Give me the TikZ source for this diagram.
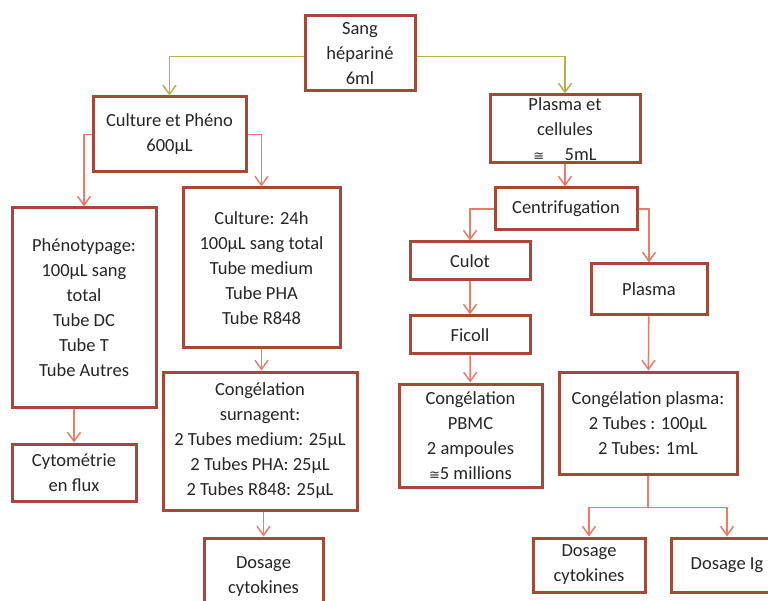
\documentclass[tikz,border=0pt]{standalone}
\usepackage{fontspec}
\setmainfont{Carlito}
\newfontfamily\symfont{DejaVu Sans}
\usepackage{tikz}
\usetikzlibrary{arrows.meta}
\usetikzlibrary{positioning}
\definecolor{boxred}{RGB}{164,72,56}
\definecolor{arrowred}{RGB}{233,125,105}
\definecolor{olivel}{RGB}{184,176,74}
\tikzstyle{block} = [draw=boxred, line width=3pt, fill=white, rectangle,
align=center, inner sep=1pt, text=black!85, font=\fontsize{18.5}{25}\selectfont]
\tikzstyle{link} = [draw, -{Straight Barb[length=9pt,width=13pt]}, color=arrowred, line width=1.5pt]

\begin{document}
\begin{tikzpicture}[x=1pt, y=-1pt,
	toplink/.style={link, color=olivel}]
	\clip (0,0) rectangle (768,601);
	\fill[white] (0,0) rectangle (768,601);
	% top level
	\node [block, minimum width=110pt, minimum height=75pt] (sang) at (360,53.5) {Sang\\hépariné\\6ml};
	\node [block, minimum width=153pt, minimum height=75pt] (culpheno) at (169.5,134.5) {Culture et Phéno\\600µL};
	\node [block, minimum width=150pt, minimum height=68pt, inner sep=0pt] (plascell) at (565,129) {Plasma et\\cellules\\{\symfont\fontsize{13}{13}\selectfont ≅}\hspace{1.1em}5mL};
	% left branch
	\node [block, minimum width=144pt, minimum height=199pt] (pheno) at (84,307.5) {Phénotypage:\\100µL sang\\total\\Tube DC\\Tube T\\Tube Autres};
	\node [block, minimum width=157pt, minimum height=160pt] (cult24) at (261.5,268) {Culture: 24h\\100µL sang total\\Tube medium\\Tube PHA\\Tube R848};
	\node [block, minimum width=194pt, minimum height=138pt] (congsurn) at (260,441) {Congélation\\surnagent:\\2 Tubes medium: 25µL\\2 Tubes PHA: 25µL\\2 Tubes R848: 25µL};
	\node [block, minimum width=124pt, minimum height=57pt] (cyto) at (74,472.5) {Cytométrie\\en flux};
	\node [block, minimum width=119pt, minimum height=77pt] (dosL) at (263.5,576.5) {Dosage\\cytokines};
	% right branch
	\node [block, minimum width=142pt, minimum height=42pt] (centri) at (566,209) {Centrifugation};
	\node [block, minimum width=120pt, minimum height=38pt] (culot) at (470,261) {Culot};
	\node [block, minimum width=120pt, minimum height=38pt, below=33pt of culot] (ficoll) {Ficoll};
	\node [block, minimum width=143pt, minimum height=103pt] (congpbmc) at (470.5,435.5) {Congélation\\PBMC\\2 ampoules\\{\symfont\fontsize{13}{13}\selectfont ≅}5 millions};
	\node [block, minimum width=116pt, minimum height=51pt] (plasma) at (649,289.5) {Plasma};
	\node [block, minimum width=178pt, minimum height=102pt] (congplas) at (648,423) {Congélation plasma:\\2 Tubes : 100µL\\2 Tubes: 1mL};
	\node [block, minimum width=112pt, minimum height=54pt] (dosR) at (589,565) {Dosage\\cytokines};
	\node [block, minimum width=112pt, minimum height=54pt, right=23pt of dosR] (dosIg) {Dosage Ig};
	%% Flows
	\path [toplink] ([yshift=-3pt]sang.west) -| (culpheno.north);
	\path [toplink] ([yshift=-3pt]sang.east) -| (plascell.north);
	\path [link] (culpheno.west) -| (pheno.north);
	\path [link] (culpheno.east) -| (cult24.north);
	\path [link] (cyto.north |- pheno.south) -- (cyto.north);
	\path [link] (cult24.south) -- (cult24.south |- congsurn.north);
	\path [link] (dosL.north |- congsurn.south) -- (dosL.north);
	\path [link] (plascell.south) -- (plascell.south |- centri.north);
	\path [link] (centri.west) -| (culot.north);
	\path [link] (centri.east) -| (plasma.north);
	\path [link] (culot) -- (ficoll);
	\path [link] (ficoll) -- (congpbmc);
	\path [link] (plasma) -- (congplas);
	\path (congplas.south) ++(0,32) coordinate (fork);
	\path [link] (congplas.south) -- (fork) -| (dosR.north);
	\path [link] (fork) -| (dosIg.north);
\end{tikzpicture}
\end{document}
